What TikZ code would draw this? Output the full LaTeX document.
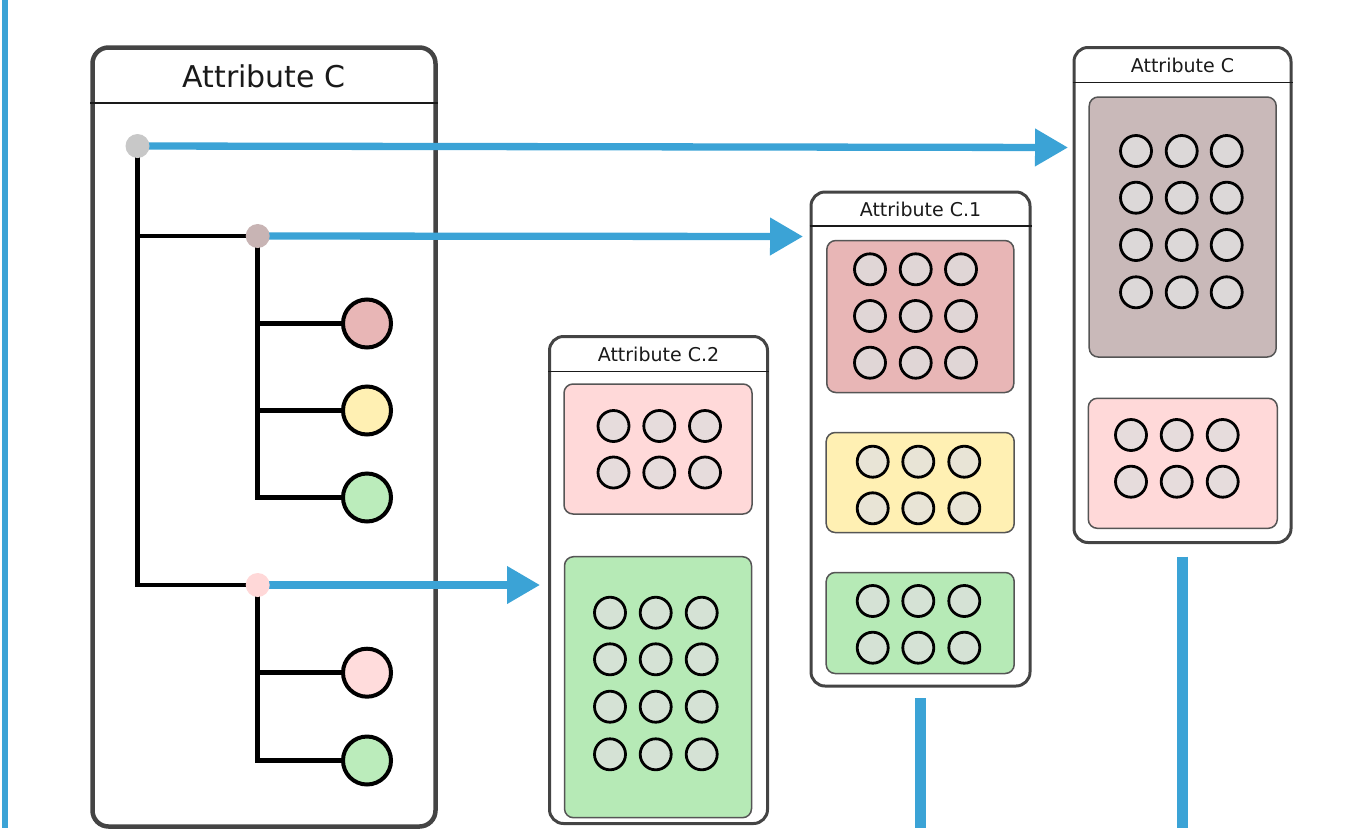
\documentclass[tikz,border=0pt]{standalone}
\usepackage{fontspec}
\setmainfont{DejaVu Sans}
\usetikzlibrary{arrows.meta}
\definecolor{blu}{RGB}{59,163,214}
\definecolor{boxgray}{RGB}{68,68,68}
\definecolor{innergray}{RGB}{85,85,85}
\definecolor{titlecol}{RGB}{26,26,26}
\definecolor{rootdot}{RGB}{200,200,200}
\definecolor{browndot}{RGB}{200,180,180}
\definecolor{pinkdot}{RGB}{255,216,216}
\definecolor{redfill}{RGB}{232,182,182}
\definecolor{yellowfill}{RGB}{255,240,179}
\definecolor{greenfill}{RGB}{182,234,182}
\definecolor{pinkfill}{RGB}{255,217,217}
\definecolor{brownfill}{RGB}{201,185,185}
\definecolor{leafgreen}{RGB}{187,236,187}
\definecolor{leafpink}{RGB}{255,220,220}
\definecolor{cpink}{RGB}{230,220,220}
\definecolor{cgreen}{RGB}{213,226,213}
\definecolor{cred}{RGB}{224,214,214}
\definecolor{cyellow}{RGB}{232,228,214}
\definecolor{cbrown}{RGB}{220,216,216}
\begin{document}
\begin{tikzpicture}[x=1pt,y=-1pt,
  outer/.style={draw=boxgray, line width=4.5pt, rounded corners=16pt, fill=white, inner sep=0pt},
  panel/.style={draw=boxgray, line width=3pt, rounded corners=14pt, fill=white, inner sep=0pt},
  inbox/.style={draw=innergray, line width=1.5pt, rounded corners=9pt, inner sep=0pt},
  sep/.style={draw=titlecol, line width=1.5pt},
  bigtitle/.style={text=titlecol, font=\fontsize{30}{36}\selectfont},
  smalltitle/.style={text=titlecol, font=\fontsize{19}{23}\selectfont},
  dot/.style={circle, inner sep=0pt, minimum size=24pt},
  leaf/.style={circle, draw=black, line width=4pt, minimum size=48pt, inner sep=0pt},
  cell/.style={circle, draw=black, line width=2.8pt, minimum size=31pt, inner sep=0pt},
  tree/.style={draw=black, line width=4.5pt},
  link/.style={draw=blu, line width=7.3pt, -{Triangle[length=33pt,width=36pt]}},
  stem/.style={draw=blu, line width=11pt}
]
\useasboundingbox (0,0) rectangle (1357,828);

% left blue line
\coordinate (lt) at (5,0);
\coordinate (lb) at (5,828);
\draw[draw=blu, line width=6.6pt] (lt) -- (lb);

% big box
\node[outer, minimum width=343pt, minimum height=779pt] (big) at (264,437) {};
\node[bigtitle] (bigt) at (264,76) {Attribute C};
\draw[sep] (big.west |- 0,103) -- (big.east |- 0,103);

% panels
\node[panel, minimum width=218pt, minimum height=487pt] (p2) at (658.5,580) {};
\node[smalltitle] (p2t) at (658.5,354) {Attribute C.2};
\draw[sep] (p2.west |- 0,371.5) -- (p2.east |- 0,371.5);

\node[panel, minimum width=219pt, minimum height=494pt] (p1) at (920.5,439) {};
\node[smalltitle] (p1t) at (920.5,209) {Attribute C.1};
\draw[sep] (p1.west |- 0,226) -- (p1.east |- 0,226);

\node[panel, minimum width=217pt, minimum height=495pt] (p0) at (1182.5,295) {};
\node[smalltitle] (p0t) at (1182.5,65) {Attribute C};
\draw[sep] (p0.west |- 0,82.5) -- (p0.east |- 0,82.5);

% inner boxes
\node[inbox, fill=pinkfill, minimum width=188pt, minimum height=130pt] (b21) at (658,449) {};
\node[inbox, fill=greenfill, minimum width=187pt, minimum height=261pt] (b22) at (658,687.2) {};
\node[inbox, fill=redfill, minimum width=187pt, minimum height=152pt] (b11) at (920.3,316.5) {};
\node[inbox, fill=yellowfill, minimum width=188pt, minimum height=100pt] (b12) at (920.2,482.5) {};
\node[inbox, fill=greenfill, minimum width=188pt, minimum height=101pt] (b13) at (920.2,623) {};
\node[inbox, fill=brownfill, minimum width=187pt, minimum height=260pt] (b01) at (1182.7,227) {};
\node[inbox, fill=pinkfill, minimum width=189pt, minimum height=130pt] (b02) at (1182.8,463.3) {};

% cells
\foreach \x [count=\i] in {613.5,659.3,705}
  \foreach \y [count=\j] in {426,472.5}
    \node[cell, fill=cpink] (c21-\i-\j) at (\x,\y) {};
\foreach \x [count=\i] in {610,655.7,701.7}
  \foreach \y [count=\j] in {612.7,659.3,706.7,754.3}
    \node[cell, fill=cgreen] (c22-\i-\j) at (\x,\y) {};
\foreach \x [count=\i] in {870,915.7,961}
  \foreach \y [count=\j] in {269.3,316,362.7}
    \node[cell, fill=cred] (c11-\i-\j) at (\x,\y) {};
\foreach \x [count=\i] in {872.7,918.3,964.3}
  \foreach \y [count=\j] in {461.7,508.3}
    \node[cell, fill=cyellow] (c12-\i-\j) at (\x,\y) {};
\foreach \x [count=\i] in {872.7,918.3,964.3}
  \foreach \y [count=\j] in {601,647.7}
    \node[cell, fill=cgreen] (c13-\i-\j) at (\x,\y) {};
\foreach \x [count=\i] in {1136,1181.7,1226.7}
  \foreach \y [count=\j] in {151,197.7,245,292.3}
    \node[cell, fill=cbrown] (c01-\i-\j) at (\x,\y) {};
\foreach \x [count=\i] in {1131,1176.7,1222.7}
  \foreach \y [count=\j] in {435,481.7}
    \node[cell, fill=cpink] (c02-\i-\j) at (\x,\y) {};

% stems
\coordinate (s1t) at (920.5,698);
\coordinate (s1b) at (920.5,828);
\coordinate (s0t) at (1182.5,556.5);
\coordinate (s0b) at (1182.5,828);
\draw[stem] (s1t) -- (s1b);
\draw[stem] (s0t) -- (s0b);

% tree
\coordinate (r) at (137.5,146);
\coordinate (d2) at (257.7,236);
\coordinate (d3) at (257.7,585);
\coordinate (a1) at (1068,147.5);
\coordinate (a2) at (803,236.5);
\coordinate (a3) at (540,585);

\node[leaf, fill=redfill] (l1) at (367,323.5) {};
\node[leaf, fill=yellowfill] (l2) at (367,410.5) {};
\node[leaf, fill=leafgreen] (l3) at (367,497.5) {};
\node[leaf, fill=leafpink] (l4) at (367,672.7) {};
\node[leaf, fill=leafgreen] (l5) at (367,760.5) {};

\draw[tree] (r) |- (d3);
\draw[tree] (r |- d2) -- (d2);
\draw[tree] (d2) |- (l3.west);
\draw[tree] (d2 |- l1) -- (l1.west);
\draw[tree] (d2 |- l2) -- (l2.west);
\draw[tree] (d3) |- (l5.west);
\draw[tree] (d3 |- l4) -- (l4.west);

\draw[link] (r) -- (a1);
\draw[link] (d2) -- (a2);
\draw[link] (d3) -- (a3);

\node[dot, fill=rootdot] (rd) at (r) {};
\node[dot, fill=browndot] (d2n) at (d2) {};
\node[dot, fill=pinkdot] (d3n) at (d3) {};
\end{tikzpicture}
\end{document}
